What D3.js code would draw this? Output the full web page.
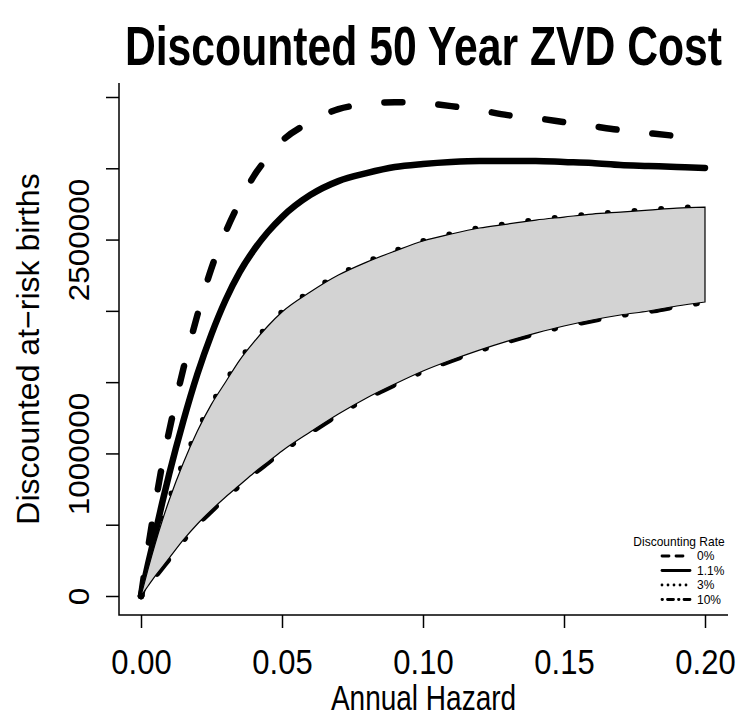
<!DOCTYPE html>
<html><head><meta charset="utf-8">
<script src="https://cdn.jsdelivr.net/npm/d3@7"></script>
<style>html,body{margin:0;padding:0;background:#fff;}svg{display:block;}</style>
</head><body>
<svg id="chart" width="740" height="717"></svg>
<script>
// ---- data ----
const hazard = [0, 0.0025, 0.005, 0.0075, 0.01, 0.015, 0.02, 0.025, 0.03, 0.035, 0.04, 0.045, 0.05, 0.06, 0.07, 0.08, 0.09, 0.10, 0.11, 0.12, 0.13, 0.14, 0.15, 0.16, 0.17, 0.18, 0.19, 0.20];
const rate0 = [0, 337000, 638000, 919000, 1157000, 1592000, 1971000, 2300000, 2553000, 2763000, 2945000, 3079000, 3191000, 3324000, 3415000, 3450000, 3464000, 3457000, 3436000, 3408000, 3373000, 3352000, 3324000, 3296000, 3268000, 3247000, 3226000, 3205000];
const rate11 = [0, 224000, 435000, 652000, 856000, 1227000, 1557000, 1837000, 2076000, 2272000, 2426000, 2553000, 2658000, 2812000, 2910000, 2966000, 3009000, 3030000, 3044000, 3051000, 3051000, 3051000, 3044000, 3037000, 3023000, 3016000, 3009000, 3002000];
const rate3 = [0, 189000, 365000, 526000, 673000, 933000, 1157000, 1346000, 1501000, 1655000, 1781000, 1894000, 1992000, 2132000, 2251000, 2342000, 2419000, 2490000, 2539000, 2581000, 2609000, 2637000, 2658000, 2679000, 2693000, 2707000, 2721000, 2728000];
const rate10 = [0, 70000, 140000, 203000, 266000, 393000, 505000, 603000, 694000, 778000, 863000, 940000, 1017000, 1150000, 1276000, 1389000, 1487000, 1578000, 1655000, 1725000, 1788000, 1844000, 1894000, 1936000, 1971000, 1999000, 2034000, 2062000];
const xTicks = [0, 0.05, 0.10, 0.15, 0.20];
const xTickLabels = ["0.00", "0.05", "0.10", "0.15", "0.20"];
const yTicks = [0, 500000, 1000000, 1500000, 2000000, 2500000, 3000000, 3500000];
const yTickLabels = ["0", "", "1000000", "", "", "2500000", "", ""];
const legendLabels = ["0%", "1.1%", "3%", "10%"];
const titleText = "Discounted 50 Year ZVD Cost";
const xTitle = "Annual Hazard";
const yTitle = "Discounted at\u2212risk births";

// ---- layout ----
const VS = 1.15; // vertical stretch of glyphs
const FONT = "'Liberation Sans', Arial, Helvetica, sans-serif";
const plot = {left: 119, right: 728, top: 83, bottom: 615};
const svg = d3.select("#chart");
const x = d3.scaleLinear().domain([0, 0.2]).range([141, 705]);
const y = d3.scaleLinear().domain([0, 3500000]).range([596, 97]);

const pts = arr => hazard.map((h, i) => [h, arr[i]]);
const line = d3.line().x(d => x(d[0])).y(d => y(d[1])).curve(d3.curveMonotoneX);

const styles = [
  {data: rate0, dash: "18,36", w: 6.5},
  {data: rate11, dash: null, w: 6.5},
  {data: rate3, dash: "0,26.7", w: 6},
  {data: rate10, dash: "0.5,27,17.5,27", w: 6.5}
];
const gLines = svg.append("g");
styles.forEach(s => {
  gLines.append("path").attr("d", line(pts(s.data)))
    .attr("fill", "none").attr("stroke", "#000").attr("stroke-width", s.w)
    .attr("stroke-linecap", "round").attr("stroke-linejoin", "round")
    .attr("stroke-dasharray", s.dash);
});

// shaded band between 3% and 10%
const area = d3.area().x(d => x(d[0])).y0(d => y(d[2])).y1(d => y(d[1])).curve(d3.curveMonotoneX);
svg.append("path")
  .attr("d", area(hazard.map((h, i) => [h, rate3[i], rate10[i]])))
  .attr("fill", "#d3d3d3").attr("stroke", "#000").attr("stroke-width", 1.2);

// box (L)
svg.append("path")
  .attr("d", `M${plot.left},${plot.top}V${plot.bottom}H${plot.right}`)
  .attr("fill", "none").attr("stroke", "#000").attr("stroke-width", 1.5);

// x axis
const gx = svg.append("g").attr("transform", `translate(0,${plot.bottom})`)
  .call(d3.axisBottom(x).tickValues(xTicks).tickSize(13).tickFormat((d, i) => xTickLabels[i]));
gx.select(".domain").remove();
gx.selectAll(".tick line").attr("stroke-width", 1.5);
gx.selectAll(".tick text").attr("y", null).attr("dy", null)
  .attr("transform", `translate(0,${674 - plot.bottom}) scale(1,${VS})`)
  .attr("font-size", 31).attr("font-family", FONT).attr("fill", "#000");

// y axis
const gy = svg.append("g").attr("transform", `translate(${plot.left},0)`)
  .call(d3.axisLeft(y).tickValues(yTicks).tickSize(13).tickFormat((d, i) => yTickLabels[i]));
gy.select(".domain").remove();
gy.selectAll(".tick line").attr("stroke-width", 1.5);
gy.selectAll(".tick text").attr("x", null).attr("dy", null)
  .attr("text-anchor", "middle")
  .attr("transform", `translate(${89 - plot.left},0) rotate(-90) scale(1.05,1)`)
  .attr("font-size", 30).attr("font-family", FONT).attr("fill", "#000");

// titles
svg.append("text").text(titleText)
  .attr("transform", `translate(${(plot.left + plot.right) / 2},65) scale(1,1.3)`)
  .attr("text-anchor", "middle").attr("font-weight", "bold").attr("font-size", 42.7)
  .attr("font-family", FONT);
svg.append("text").text(xTitle)
  .attr("transform", `translate(${(plot.left + plot.right) / 2},710) scale(1,1.25)`)
  .attr("text-anchor", "middle").attr("font-size", 28).attr("font-family", FONT);
svg.append("text").text(yTitle)
  .attr("transform", `translate(39,${(plot.top + plot.bottom) / 2}) rotate(-90)`)
  .attr("text-anchor", "middle").attr("font-size", 32).attr("font-family", FONT);

// legend
const lg = svg.append("g");
lg.append("text").text("Discounting Rate")
  .attr("transform", `translate(679,546) scale(1,1.05)`)
  .attr("text-anchor", "middle").attr("font-size", 12).attr("font-family", FONT);
const legDash = ["7,7", null, "0,6", "0.5,5,6,5"];
legendLabels.forEach((lab, i) => {
  const cy = 556 + i * 14.5;
  lg.append("line").attr("x1", 662).attr("x2", 690).attr("y1", cy).attr("y2", cy)
    .attr("stroke", "#000").attr("stroke-width", 2.8).attr("stroke-linecap", "round")
    .attr("stroke-dasharray", legDash[i]);
  lg.append("text").text(lab)
    .attr("transform", `translate(697,${cy + 4.3}) scale(1,1.05)`)
    .attr("font-size", 12).attr("font-family", FONT);
});
</script>
</body></html>
